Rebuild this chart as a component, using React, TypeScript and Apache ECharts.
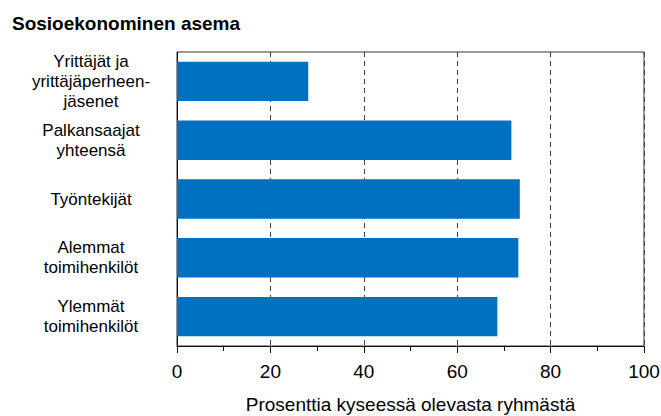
import React, { useEffect, useRef } from "react";
import * as echarts from "echarts";

const chartTitle = "Sosioekonominen asema";
const axisTitle = "Prosenttia kyseessä olevasta ryhmästä";
const categories = [
  "Yrittäjät ja\nyrittäjäperheen-\njäsenet",
  "Palkansaajat\nyhteensä",
  "Työntekijät",
  "Alemmat\ntoimihenkilöt",
  "Ylemmät\ntoimihenkilöt",
];
const values = [28.1, 71.6, 73.4, 73.1, 68.6];
const xMin = 0;
const xMax = 100;
const xInterval = 20;

export default function App() {
  const ref = useRef<HTMLDivElement>(null);
  useEffect(() => {
    if (!ref.current) return;
    const chart = echarts.init(ref.current, null, { renderer: "svg" });
    chart.setOption({
      animation: false,
      backgroundColor: "#ffffff",
      title: {
        text: chartTitle,
        left: 7,
        top: 9,
        textStyle: {
          fontFamily: "Liberation Sans",
          fontWeight: "bold",
          fontSize: 19,
          color: "#000",
        },
      },
      grid: {
        left: 177,
        right: 17,
        top: 52,
        bottom: 70,
        outerBoundsMode: "none",
        containLabel: false,
        show: true,
        borderColor: "#333",
        borderWidth: 1,
        backgroundColor: "transparent",
      },
      xAxis: {
        type: "value",
        min: xMin,
        max: xMax,
        interval: xInterval,
        name: axisTitle,
        nameLocation: "middle",
        nameGap: 48,
        nameTextStyle: {
          fontFamily: "Liberation Sans",
          fontSize: 19,
          lineHeight: 20,
          color: "#000",
        },
        axisLine: { show: true, lineStyle: { color: "#111", width: 1 } },
        axisTick: { show: true, length: 7, lineStyle: { color: "#111" } },
        minorTick: { show: true, splitNumber: 2, length: 5, lineStyle: { color: "#111" } },
        axisLabel: {
          fontFamily: "Liberation Sans",
          fontSize: 19,
          color: "#000",
          margin: 16,
        },
        splitLine: {
          show: true,
          lineStyle: { color: "#444", type: [5, 4], width: 1 },
        },
      },
      yAxis: {
        type: "category",
        data: categories,
        inverse: true,
        axisLine: { show: true, lineStyle: { color: "#111", width: 1 } },
        axisTick: { show: false },
        axisLabel: {
          fontFamily: "Liberation Sans",
          fontSize: 17,
          lineHeight: 20,
          color: "#000",
          align: "center",
          margin: 86,
        },
        splitLine: { show: false },
      },
      series: [
        {
          type: "bar",
          data: values,
          barCategoryGap: "33%",
          itemStyle: { color: "#0070c0" },
        },
      ],
    });
    return () => chart.dispose();
  }, []);
  return (
    <div
      ref={ref}
      style={{ position: "absolute", left: 0, top: 0, width: 661, height: 416 }}
    />
  );
}
